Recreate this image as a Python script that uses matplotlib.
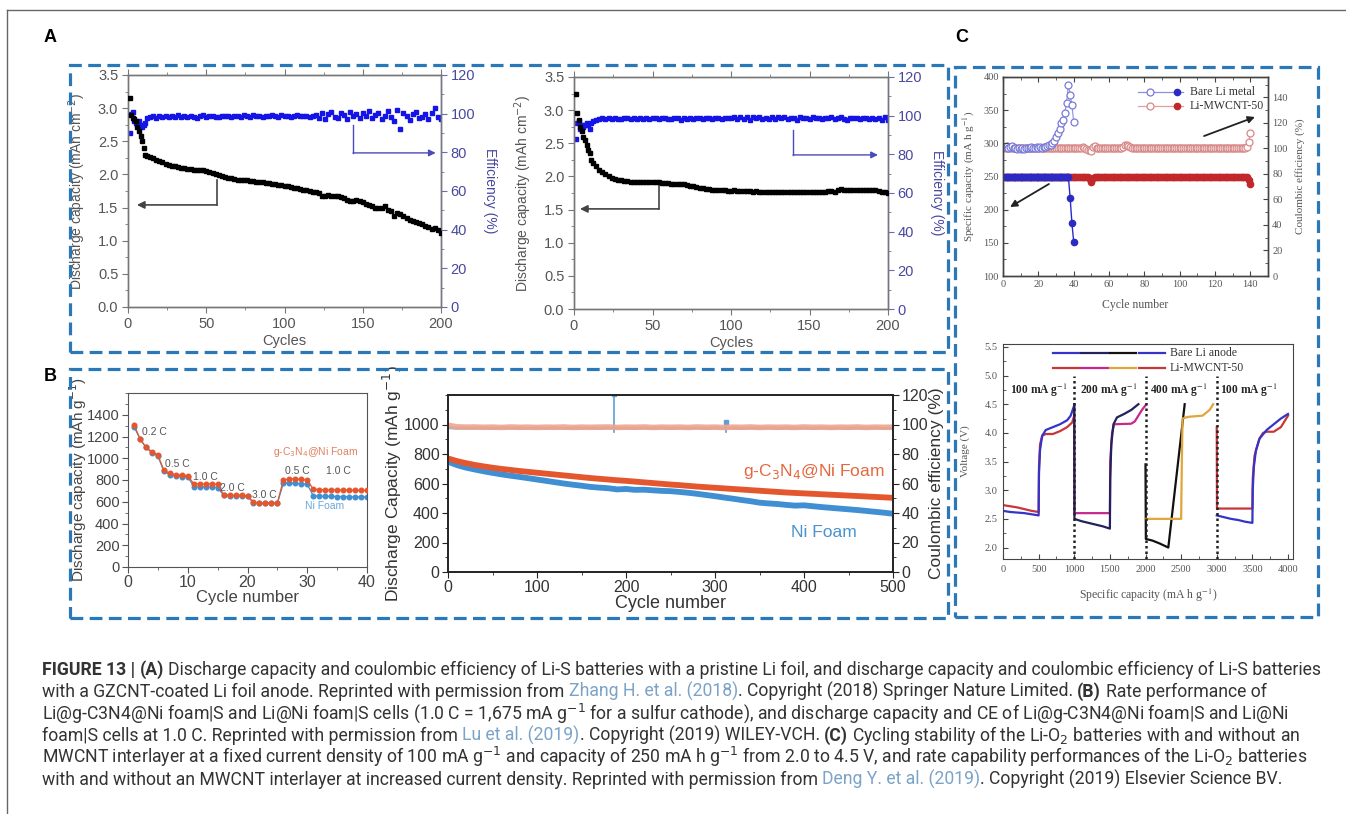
import matplotlib
matplotlib.use("Agg")
import matplotlib.pyplot as plt
import numpy as np
from matplotlib.patches import Rectangle
from matplotlib.ticker import MultipleLocator

W, H = 1346, 814
SANS = "Liberation Sans"
SERIF = "Liberation Serif"
CAPF = "Roboto"

# ======================= DATA =======================
# ---- Panel A (left): pristine Li foil ----
a1_cyc_early = [1, 2, 3, 4, 5, 6, 7, 8, 9, 10, 11, 12]
a1_cap_early = [3.15, 2.9, 2.85, 2.84, 2.8, 2.72, 2.65, 2.58, 2.5, 2.4, 2.3, 2.28]
a1_eff_early = [90, 100, 101, 96, 95, 94, 96, 94, 93, 94, 95, 98]
a1_cap_late = [2.27, 2.25, 2.22, 2.2, 2.18, 2.15, 2.14, 2.13, 2.12, 2.11, 2.1, 2.09,
               2.08, 2.08, 2.07, 2.07, 2.07, 2.06, 2.05, 2.04, 2.02, 2.0, 1.99, 1.98,
               1.96, 1.95, 1.94, 1.93, 1.92, 1.92, 1.91, 1.91, 1.9, 1.9, 1.89, 1.88,
               1.88, 1.87, 1.87, 1.86, 1.85, 1.84, 1.84, 1.83, 1.82, 1.81, 1.8, 1.79,
               1.78, 1.77, 1.76, 1.75, 1.74, 1.74,
               1.72, 1.67, 1.68, 1.69, 1.68, 1.68, 1.67, 1.66, 1.64, 1.62, 1.6, 1.6,
               1.61, 1.6, 1.58, 1.56, 1.54, 1.52, 1.5, 1.49, 1.5, 1.52,
               1.47, 1.45, 1.38, 1.42, 1.4, 1.37, 1.35, 1.32, 1.3, 1.28, 1.27, 1.25,
               1.22, 1.2, 1.18, 1.19, 1.16, 1.12]
a1_eff_late = [98.2, 98.6, 98.0, 98.8, 98.4, 99.0, 98.3, 98.7, 98.1, 99.2, 98.5, 98.8,
               98.2, 98.9, 98.4, 98.0, 98.7, 99.1, 98.3, 98.6, 98.9, 98.2, 98.5, 98.8,
               98.6, 98.9, 98.3, 99.0, 98.7, 98.4, 99.1, 98.8, 98.5, 99.2, 98.7, 98.9,
               98.4, 99.0, 98.6, 99.3, 98.8, 98.5, 99.1, 98.7, 99.0, 98.4, 98.9, 99.2,
               98.6, 98.8, 99.0, 98.5, 98.9, 99.1,
               98.0, 100.5, 97.5, 99.8, 101.0, 98.2, 97.8, 100.2, 99.5, 97.2, 100.8, 98.6,
               99.9, 97.6, 100.3, 98.9, 101.2, 97.9, 99.4, 100.6, 97.4, 99.0, 101.5, 98.3,
               96.0, 101.8, 92.0, 100.5, 98.7, 96.5, 99.6, 101.0, 97.8, 98.5, 99.9, 97.3,
               100.2, 103.0, 98.1, 97.0]

# ---- Panel A (right): GZCNT-coated Li foil ----
a2_cyc_early = [1, 2, 3, 4, 5, 6, 7, 8, 9, 10, 11, 12]
a2_cap_early = [3.25, 2.95, 2.85, 2.75, 2.68, 2.6, 2.55, 2.48, 2.4, 2.35, 2.25, 2.2]
a2_eff_early = [88, 96, 97, 93, 95, 94, 95, 96, 95, 93, 96, 97]
a2_cap_late = [2.15, 2.1, 2.06, 2.03, 2.0, 1.97, 1.96, 1.95, 1.94,
               1.93, 1.93, 1.92, 1.92, 1.92, 1.91, 1.91, 1.91, 1.92, 1.92,
               1.91, 1.91, 1.9, 1.9, 1.9, 1.89, 1.89, 1.89, 1.88, 1.88,
               1.87, 1.86, 1.85, 1.84, 1.83, 1.82, 1.81, 1.81, 1.8, 1.8,
               1.79, 1.79, 1.79, 1.78, 1.78, 1.79, 1.78, 1.78, 1.78, 1.78,
               1.78, 1.77, 1.78, 1.77, 1.77, 1.77, 1.77, 1.76, 1.77, 1.77,
               1.76, 1.76, 1.77, 1.76, 1.77, 1.77, 1.76, 1.76, 1.76, 1.77,
               1.76, 1.77, 1.77, 1.76, 1.77, 1.78, 1.78, 1.77, 1.79, 1.81,
               1.79, 1.79, 1.8, 1.8, 1.8, 1.8, 1.79, 1.8, 1.8, 1.79,
               1.79, 1.78, 1.77, 1.76, 1.75]
a2_eff_late = [97.8, 98.3, 98.6, 98.2, 98.7, 98.4, 98.9, 98.5, 98.1, 98.8, 98.6, 98.3,
               98.9, 98.5, 98.7, 98.2, 98.8, 98.4, 99.0, 98.6, 98.3, 98.7, 98.9, 98.5,
               98.4, 98.8, 98.6, 97.9, 98.7, 98.5, 98.9, 98.3, 98.6, 98.8, 98.4, 98.7,
               98.9, 98.5, 98.6, 98.8, 98.4, 98.7, 99.0, 98.6, 99.3, 98.2, 99.5, 98.4,
               99.1, 98.0, 99.4, 98.7, 99.2, 98.3,
               99.0, 98.5, 99.3, 98.2, 99.1, 98.8, 99.4, 98.4, 99.0, 98.6, 97.5, 99.2,
               98.7, 98.9, 98.4, 99.1, 98.6, 98.8, 98.3, 98.9, 98.7, 99.1, 98.5, 98.8,
               99.5, 98.4, 97.8, 98.9, 98.6, 98.8, 98.4, 98.7, 98.9, 98.3, 98.6, 98.1,
               98.7, 97.6, 99.2, 97.8]

a_xticks = [0, 50, 100, 150, 200]
a_xlabels = ["0", "50", "100", "150", "200"]
a_yticks = [0.0, 0.5, 1.0, 1.5, 2.0, 2.5, 3.0, 3.5]
a_ylabels = ["0.0", "0.5", "1.0", "1.5", "2.0", "2.5", "3.0", "3.5"]
a_rticks = [0, 20, 40, 60, 80, 100, 120]
a_rlabels = ["0", "20", "40", "60", "80", "100", "120"]

# ---- Panel B (left): rate performance ----
b1_cyc = list(range(1, 41))
b1_gcn = [1310, 1180, 1100, 1060, 1030, 890, 860, 850, 845, 840,
          765, 765, 765, 765, 760, 665, 660, 660, 660, 655,
          595, 590, 590, 590, 590, 800, 810, 810, 805, 800,
          715, 712, 710, 710, 708, 708, 706, 706, 705, 705]
b1_ni = [1290, 1180, 1100, 1050, 1020, 880, 850, 840, 830, 830,
         740, 735, 735, 735, 730, 660, 655, 655, 650, 650,
         590, 590, 585, 585, 585, 770, 775, 770, 765, 760,
         655, 652, 650, 650, 648, 648, 646, 646, 645, 645]
b1_xticks = [0, 10, 20, 30, 40]
b1_xlabels = ["0", "10", "20", "30", "40"]
b1_yticks = [0, 200, 400, 600, 800, 1000, 1200, 1400]
b1_ylabels = ["0", "200", "400", "600", "800", "1000", "1200", "1400"]
b1_rate_labels = ["0.2 C", "0.5 C", "1.0 C", "2.0 C", "3.0 C", "0.5 C", "1.0 C"]
b1_rate_x = [2.3, 6.2, 10.9, 15.4, 20.8, 26.3, 33.2]
b1_rate_y = [1243, 948, 829, 727, 663, 884, 884]

# ---- Panel B (right): long cycling at 1.0 C ----
b2_cyc = list(range(0, 501, 10))
b2_gcn = [770, 752, 738, 726, 716, 707, 699, 692, 685, 679, 673, 667, 661, 655, 649,
          643, 637, 632, 627, 622, 618, 613, 608, 603, 598, 593, 589, 584, 579, 575,
          571, 567, 563, 559, 555, 551, 547, 543, 539, 536, 533, 530, 527, 524, 521,
          518, 515, 512, 509, 506, 503]
b2_ni = [748, 725, 708, 695, 683, 672, 662, 653, 645, 636, 627, 618, 609, 600, 592,
         585, 577, 572, 568, 560, 563, 557, 558, 554, 550, 548, 543, 537, 530, 522,
         514, 505, 497, 488, 480, 470, 465, 461, 455, 450, 452, 446, 440, 435, 430,
         425, 420, 414, 408, 402, 395]
b2_gcn_ce = [99.5, 98.4, 98.2, 98.3, 98.1, 98.2, 98.0, 98.3, 98.1, 98.2, 98.0, 98.2,
             98.1, 98.3, 98.0, 98.2, 98.1, 98.2, 98.3, 98.0, 98.2, 98.1, 98.3, 98.0,
             98.2, 98.1, 98.2, 98.0, 98.3, 98.1, 98.2, 98.0, 98.2, 98.1, 98.3, 98.0,
             98.2, 98.1, 98.2, 98.0, 98.3, 98.1, 98.2, 98.0, 98.2, 98.1, 98.3, 98.0,
             98.2, 98.1, 98.2]
b2_ni_ce = [97.8, 97.4, 97.6, 97.5, 97.6, 97.4, 97.7, 97.5, 97.6, 97.4, 97.6, 97.5,
            97.7, 97.4, 97.6, 97.5, 97.6, 97.4, 97.7, 97.5, 97.6, 97.4, 97.6, 97.5,
            97.7, 97.4, 97.6, 97.5, 97.6, 97.4, 97.7, 97.5, 97.6, 97.4, 97.6, 97.5,
            97.7, 97.4, 97.6, 97.5, 97.6, 97.4, 97.7, 97.5, 97.6, 97.4, 97.6, 97.5,
            97.7, 97.4, 97.6]
b2_spike_cyc = [187, 312]
b2_spike_val = [121, 102]
b2_xticks = [0, 100, 200, 300, 400, 500]
b2_xlabels = ["0", "100", "200", "300", "400", "500"]
b2_yticks = [0, 200, 400, 600, 800, 1000]
b2_ylabels = ["0", "200", "400", "600", "800", "1000"]
b2_rticks = [0, 20, 40, 60, 80, 100, 120]
b2_rlabels = ["0", "20", "40", "60", "80", "100", "120"]

# ---- Panel C (top): cycling stability ----
c1_bare_cyc = list(range(1, 41))
c1_bare_cap = [250, 250, 250, 250, 250, 250, 250, 250, 250, 250,
               250, 250, 250, 250, 250, 250, 250, 250, 250, 250,
               250, 250, 250, 250, 250, 250, 250, 250, 250, 250,
               250, 250, 250, 250, 250, 250, 250, 218, 180, 152]
c1_bare_ce = [101.5, 102, 100.5, 101, 102, 100, 100.5, 99.5, 100, 99.5,
              100, 99.5, 100, 100, 100.5, 101, 100.5, 100, 101, 100.5,
              101, 100.5, 101, 101.5, 102, 102.5, 103, 104, 106, 109,
              112, 115, 120, 122, 128, 136, 150, 142, 134, 121]
c1_mw_cyc = list(range(1, 141))
c1_mw_cap = [250, 250, 250, 250, 250, 250, 250, 250, 250, 250,
             250, 250, 250, 250, 250, 250, 250, 250, 250, 250,
             250, 250, 250, 250, 250, 250, 250, 250, 250, 250,
             250, 250, 250, 250, 250, 250, 250, 250, 250, 250,
             250, 250, 250, 250, 250, 250, 250, 249, 246, 242,
             248, 250, 250, 250, 250, 250, 250, 250, 250, 250,
             250, 250, 250, 250, 250, 250, 250, 250, 250, 250,
             250, 250, 250, 250, 250, 250, 250, 250, 250, 250,
             250, 250, 250, 250, 250, 250, 250, 250, 250, 250,
             250, 250, 250, 250, 250, 250, 250, 250, 250, 250,
             250, 250, 250, 250, 250, 250, 250, 250, 250, 250,
             250, 250, 250, 250, 250, 250, 250, 250, 250, 250,
             250, 250, 250, 250, 250, 250, 250, 250, 250, 250,
             250, 250, 250, 250, 250, 250, 250, 250, 244, 238]
c1_mw_ce = [100, 100, 100, 100, 100, 100, 100, 100, 100, 100,
            100, 100, 100, 100, 100, 100, 100, 100, 100, 100,
            100, 100, 100, 100, 100, 100, 100, 100, 100, 100,
            100, 100, 100, 100, 100, 100, 100, 100, 100, 100,
            100, 100, 100, 100, 101, 100.5, 99.5, 99, 98.5, 98,
            101, 102, 100.5, 100, 100, 100, 100, 100, 100, 100,
            100, 100, 100, 100, 100, 100, 100.5, 101, 102.5, 103,
            102, 101, 100, 100, 100, 100, 100, 100, 100, 100,
            100, 100, 100, 100, 100, 100, 100, 100, 100, 100,
            100, 100, 100, 100, 100, 100, 100, 100, 100, 100,
            100, 100, 100, 100, 100, 100, 100, 100, 100, 100,
            100, 100, 100, 100, 100, 100, 100, 100, 100, 100,
            100, 100, 100, 100, 100, 100, 100, 100, 100, 100,
            100, 100, 100, 100, 100, 100, 100, 101, 105, 112]
c1_xticks = [0, 20, 40, 60, 80, 100, 120, 140]
c1_xlabels = ["0", "20", "40", "60", "80", "100", "120", "140"]
c1_yticks = [100, 150, 200, 250, 300, 350, 400]
c1_ylabels = ["100", "150", "200", "250", "300", "350", "400"]
c1_rticks = [0, 20, 40, 60, 80, 100, 120, 140]
c1_rlabels = ["0", "20", "40", "60", "80", "100", "120", "140"]

# ---- Panel C (bottom): rate capability voltage profiles ----
bare_s1_x = [0, 100, 200, 300, 400, 500, 505, 520, 550, 600, 700, 800, 900, 950, 1000]
bare_s1_v = [2.64, 2.62, 2.61, 2.6, 2.58, 2.56, 3.3, 3.7, 3.95, 4.05, 4.1, 4.15, 4.22, 4.3, 4.48]
bare_s2_x = [1000, 1003, 1100, 1200, 1300, 1400, 1500, 1505, 1520, 1550, 1600, 1700, 1800, 1900]
bare_s2_v = [4.5, 2.5, 2.46, 2.43, 2.4, 2.37, 2.33, 3.2, 3.8, 4.15, 4.27, 4.33, 4.4, 4.5]
bare_s3_x = [2000, 2005, 2100, 2200, 2320, 2550]
bare_s3_v = [3.45, 2.15, 2.12, 2.07, 2.0, 4.5]
bare_s4_x = [3000, 3100, 3200, 3300, 3400, 3500, 3505, 3520, 3550, 3600, 3700, 3800, 3900, 4000]
bare_s4_v = [2.56, 2.53, 2.5, 2.48, 2.45, 2.43, 3.0, 3.4, 3.7, 3.9, 4.05, 4.15, 4.25, 4.33]
mw_s1_x = [0, 100, 200, 300, 400, 500, 505, 520, 550, 600, 700, 800, 900, 970, 1000]
mw_s1_v = [2.74, 2.72, 2.7, 2.67, 2.64, 2.62, 3.4, 3.8, 3.95, 3.98, 3.98, 4.03, 4.1, 4.18, 4.3]
mw_s2_x = [1000, 1003, 1500, 1505, 1530, 1560, 1800, 1850, 1900, 1950, 2000]
mw_s2_v = [4.45, 2.6, 2.6, 3.5, 4.0, 4.15, 4.16, 4.2, 4.3, 4.4, 4.48]
mw_s3_x = [2000, 2500, 2510, 2520, 2600, 2800, 2900, 2950]
mw_s3_v = [2.5, 2.5, 3.5, 4.25, 4.28, 4.3, 4.4, 4.5]
mw_s4_x = [3000, 3003, 3500, 3505, 3530, 3600, 3650, 3700, 3800, 3900, 4000]
mw_s4_v = [4.1, 2.68, 2.68, 3.2, 3.6, 3.9, 4.0, 4.02, 4.02, 4.1, 4.3]
c2_bounds = [1000, 2000, 3000]
c2_rate_labels = ["100 mA g$^{-1}$", "200 mA g$^{-1}$", "400 mA g$^{-1}$", "100 mA g$^{-1}$"]
c2_rate_x = [98, 1080, 2063, 3045]
c2_xticks = [0, 500, 1000, 1500, 2000, 2500, 3000, 3500, 4000]
c2_xlabels = ["0", "500", "1000", "1500", "2000", "2500", "3000", "3500", "4000"]
c2_yticks = [2.0, 2.5, 3.0, 3.5, 4.0, 4.5, 5.0, 5.5]
c2_ylabels = ["2.0", "2.5", "3.0", "3.5", "4.0", "4.5", "5.0", "5.5"]

# ======================= FIGURE =======================
fig = plt.figure(figsize=(W / 100, H / 100), dpi=100)


def add_ax(l, t, r, b):
    return fig.add_axes([l / W, 1 - b / H, (r - l) / W, (b - t) / H])


def ticks(ax, which, major, labels, minor, family, size, color):
    if which == "x":
        ax.set_xticks(major)
        ax.set_xticklabels(labels, fontfamily=family, fontsize=size, color=color)
        ax.xaxis.set_minor_locator(MultipleLocator(minor))
    else:
        ax.set_yticks(major)
        ax.set_yticklabels(labels, fontfamily=family, fontsize=size, color=color)
        ax.yaxis.set_minor_locator(MultipleLocator(minor))


def frame(l, t, r, b):
    fig.patches.append(Rectangle((l / W, 1 - b / H), (r - l) / W, (b - t) / H,
                                 transform=fig.transFigure, fill=False,
                                 edgecolor="#2a78b8", lw=2.3, ls=(0, (4, 2))))


# page frame lines
fig.add_artist(plt.Line2D([7 / W, 1], [1 - 10 / H, 1 - 10 / H], transform=fig.transFigure,
                          color="#666666", lw=1))
fig.add_artist(plt.Line2D([7 / W, 7 / W], [0, 1 - 10 / H], transform=fig.transFigure,
                          color="#666666", lw=1))

# dashed panel frames
frame(70, 65, 948, 352)
frame(70, 369, 948, 618)
frame(955, 67, 1318, 617)

for lab, (px, py) in zip(["A", "B", "C"], [(50, 38), (50, 376), (962, 38)]):
    fig.text(px / W, 1 - py / H, lab, fontfamily=SANS, fontweight="bold", fontsize=13,
             ha="center", va="center")

AGRAY = "#555555"
ABLUE = "#4848a0"


def panel_a(box, cyc_e, cap_e, eff_e, cap_l, eff_l, arr_k, arr_b):
    ax = add_ax(*box)
    axr = ax.twinx()
    cyc_l = np.arange(14, 14 + 2 * len(cap_l), 2)
    cyc_le = np.arange(14, 14 + 2 * len(eff_l), 2)
    axr.plot(cyc_e, eff_e, "s", ms=3.3, color="#1414e6", mec="#1414e6", zorder=2)
    axr.plot(cyc_le, eff_l, "s", ms=3.3, color="#1414e6", mec="#1414e6", zorder=2)
    ax.set_zorder(axr.get_zorder() + 1)
    ax.patch.set_visible(False)
    ax.plot(cyc_e, cap_e, "s", ms=3.3, color="black", zorder=3)
    ax.plot(cyc_l, cap_l, "s", ms=3.3, color="black", zorder=3)
    ax.set_xlim(0, 200)
    ax.set_ylim(0, 3.5)
    axr.set_ylim(0, 120)
    ticks(ax, "x", a_xticks, a_xlabels, 25, SANS, 10.5, AGRAY)
    ticks(ax, "y", a_yticks, a_ylabels, 0.25, SANS, 10.5, AGRAY)
    ticks(axr, "y", a_rticks, a_rlabels, 10, SANS, 10.5, ABLUE)
    for a in (ax, axr):
        for s in a.spines.values():
            s.set_color("#777777")
            s.set_linewidth(1.0)
    axr.spines["right"].set_color("#6a6ab8")
    ax.tick_params(which="major", direction="out", length=4, color="#777777", pad=3)
    ax.tick_params(which="minor", direction="out", length=2, color="#777777")
    ax.tick_params(axis="x", top=True, which="both", direction="out")
    axr.tick_params(which="major", direction="out", length=4, color="#6a6ab8", pad=3)
    axr.tick_params(which="minor", direction="out", length=2, color="#6a6ab8")
    ax.set_xlabel("Cycles", fontfamily=SANS, fontsize=10.5, color=AGRAY)
    ax.xaxis.set_label_coords(0.5, -0.118)
    ax.set_ylabel("Discharge capacity (mAh cm$^{-2}$)", fontfamily=SANS, fontsize=10,
                  color=AGRAY, math_fontfamily="dejavusans")
    ax.yaxis.set_label_coords(-0.128, 0.5)
    axr.set_ylabel("Efficiency (%)", fontfamily=SANS, fontsize=10, color=ABLUE,
                   rotation=270, va="center")
    axr.yaxis.set_label_coords(1.155, 0.5)
    # arrows
    kx0, ky0, ky1, kx1 = arr_k
    ax.plot([kx0, kx0], [ky0, ky1], color="#444444", lw=1.2)
    ax.annotate("", xy=(kx1, ky1), xytext=(kx0, ky1),
                arrowprops=dict(arrowstyle="-|>", color="#444444", lw=1.2,
                                shrinkA=0, shrinkB=0, mutation_scale=11))
    bx0, by0, by1, bx1 = arr_b
    axr.plot([bx0, bx0], [by0, by1], color="#4a4ab8", lw=1.0)
    axr.annotate("", xy=(bx1, by1), xytext=(bx0, by1),
                 arrowprops=dict(arrowstyle="-|>", color="#4a4ab8", lw=1.0,
                                 shrinkA=0, shrinkB=0, mutation_scale=10))


panel_a((128, 75, 441, 307), a1_cyc_early, a1_cap_early, a1_eff_early, a1_cap_late,
        a1_eff_late, (56.8, 1.92, 1.54, 5.7), (143.8, 94, 79.7, 196.6))
panel_a((574, 77, 888, 309), a2_cyc_early, a2_cap_early, a2_eff_early, a2_cap_late,
        a2_eff_late, (54, 1.87, 1.51, 3.8), (139.5, 92.6, 79.7, 193.6))

# ---------------- Panel B left ----------------
BORG = "#e4572e"
BBLU = "#3f8fd2"
axb1 = add_ax(128, 393, 367, 567)
axb1.plot(b1_cyc, b1_ni, "-o", color=BBLU, ms=3.3, lw=0.9, zorder=2)
axb1.plot(b1_cyc, b1_gcn, "-o", color=BORG, ms=3.3, lw=0.9, zorder=3)
axb1.set_xlim(0, 40)
axb1.set_ylim(0, 1600)
ticks(axb1, "x", b1_xticks, b1_xlabels, 5, SANS, 11.5, "#444444")
ticks(axb1, "y", b1_yticks, b1_ylabels, 100, SANS, 10.5, "#444444")
for s in axb1.spines.values():
    s.set_color("#555555")
axb1.tick_params(which="major", direction="out", length=4, color="#555555", pad=2)
axb1.tick_params(which="minor", direction="out", length=2, color="#555555")
axb1.set_xlabel("Cycle number", fontfamily=SANS, fontsize=12, color="#444444")
axb1.xaxis.set_label_coords(0.5, -0.135)
axb1.set_ylabel("Discharge capacity (mAh g$^{-1}$)", fontfamily=SANS, fontsize=11,
                color="#444444", math_fontfamily="dejavusans")
axb1.yaxis.set_label_coords(-0.163, 0.5)
for lab, x, y in zip(b1_rate_labels, b1_rate_x, b1_rate_y):
    axb1.text(x, y, lab, fontfamily=SANS, fontsize=7.5, color="#555555", va="center")
axb1.text(24.3, 1059, "g-C$_3$N$_4$@Ni Foam", fontfamily=SANS, fontsize=7.5, color="#e08060",
          va="center", math_fontfamily="dejavusans")
axb1.text(29.6, 560, "Ni Foam", fontfamily=SANS, fontsize=7.5, color="#6aa6d8", va="center")

# ---------------- Panel B right ----------------
axb2 = add_ax(448, 395, 893, 572)
axb2r = axb2.twinx()
axb2.set_zorder(axb2r.get_zorder() + 1)
axb2.patch.set_visible(False)
axb2r.plot(b2_cyc, b2_ni_ce, "-", color="#7fb3de", lw=2.0)
for cx, cv in zip(b2_spike_cyc, b2_spike_val):
    axb2r.plot([cx, cx], [95, cv], color="#5f9fd4", lw=1.2)
    axb2r.plot([cx], [cv], "s", color="#5f9fd4", ms=3)
axb2r.plot(b2_cyc, b2_gcn_ce, "-", color="#f0a48c", lw=4.0, alpha=0.9)
axb2.plot(b2_cyc, b2_ni, "-", color=BBLU, lw=4.2, solid_capstyle="butt")
axb2.plot(b2_cyc, b2_gcn, "-", color=BORG, lw=4.2, solid_capstyle="butt")
axb2.set_xlim(0, 500)
axb2.set_ylim(0, 1200)
axb2r.set_ylim(0, 120)
ticks(axb2, "x", b2_xticks, b2_xlabels, 50, SANS, 11.5, "#333333")
ticks(axb2, "y", b2_yticks, b2_ylabels, 100, SANS, 11.5, "#333333")
ticks(axb2r, "y", b2_rticks, b2_rlabels, 10, SANS, 11.5, "#333333")
for a in (axb2, axb2r):
    for s in a.spines.values():
        s.set_color("#222222")
        s.set_linewidth(1.2)
    a.tick_params(which="major", direction="out", length=4, color="#222222", pad=2)
    a.tick_params(which="minor", direction="out", length=2, color="#222222")
axb2.set_xlabel("Cycle number", fontfamily=SANS, fontsize=13, color="#333333")
axb2.xaxis.set_label_coords(0.5, -0.13)
axb2.set_ylabel("Discharge Capacity (mAh g$^{-1}$)", fontfamily=SANS, fontsize=12.5,
                color="#333333", math_fontfamily="dejavusans")
axb2.yaxis.set_label_coords(-0.098, 0.5)
axb2r.set_ylabel("Coulombic efficiency (%)", fontfamily=SANS, fontsize=12.5,
                 color="#333333", rotation=90)
axb2r.yaxis.set_label_coords(1.081, 0.5)
axb2.text(491, 678, "g-C$_3$N$_4$@Ni Foam", fontfamily=SANS, fontsize=12.5, color="#e4683e",
          ha="right", va="center", math_fontfamily="dejavusans")
axb2.text(422, 270, "Ni Foam", fontfamily=SANS, fontsize=12.5, color="#4a92cf",
          ha="center", va="center")

# ---------------- Panel C top ----------------
CG = "#555555"
CBLUE = "#2b2bc4"
CRED = "#c0282c"
axc1 = add_ax(1003, 77, 1268, 276)
axc1r = axc1.twinx()
axc1.set_zorder(axc1r.get_zorder() + 1)
axc1.patch.set_visible(False)
axc1r.plot(c1_mw_cyc, c1_mw_ce, "-o", color="#e0a0a0", mfc="white", mec="#d88888",
           ms=5, lw=0.8, mew=0.9)
axc1r.plot(c1_bare_cyc, c1_bare_ce, "-o", color="#8f8fe0", mfc="white", mec="#7a7ad8",
           ms=5, lw=0.8, mew=0.9)
axc1.plot(c1_mw_cyc, c1_mw_cap, "-o", color=CRED, ms=4.5, lw=1.0)
axc1.plot(c1_bare_cyc, c1_bare_cap, "-o", color=CBLUE, ms=4.5, lw=1.0)
axc1.set_xlim(0, 150)
axc1.set_ylim(100, 400)
axc1r.set_ylim(0, 156)
ticks(axc1, "x", c1_xticks, c1_xlabels, 10, SERIF, 7.5, CG)
ticks(axc1, "y", c1_yticks, c1_ylabels, 25, SERIF, 7.5, CG)
ticks(axc1r, "y", c1_rticks, c1_rlabels, 10, SERIF, 7.5, CG)
for a in (axc1, axc1r):
    for s in a.spines.values():
        s.set_color("#444444")
        s.set_linewidth(1.0)
    a.tick_params(which="major", direction="in", length=3.5, color="#444444", pad=3)
    a.tick_params(which="minor", direction="in", length=2, color="#444444")
axc1.tick_params(axis="x", which="both", top=True)
axc1.set_xlabel("Cycle number", fontfamily=SERIF, fontsize=8.5, color=CG)
axc1.xaxis.set_label_coords(0.5, -0.116)
axc1.set_ylabel("Specific capacity (mA h g$^{-1}$)", fontfamily=SERIF, fontsize=8,
                color=CG, math_fontfamily="stix")
axc1.yaxis.set_label_coords(-0.098, 0.5)
axc1r.set_ylabel("Coulombic efficiency (%)", fontfamily=SERIF, fontsize=8, color=CG,
                 rotation=90)
axc1r.yaxis.set_label_coords(1.102, 0.5)
# legend
for yy, lc, ec, fc, name in [(0.925, "#8f8fe0", "#7a7ad8", CBLUE, "Bare Li metal"),
                             (0.854, "#e0a0a0", "#d88888", CRED, "Li-MWCNT-50")]:
    axc1.plot([0.509, 0.679], [yy, yy], color=lc, lw=0.9, transform=axc1.transAxes)
    axc1.plot([0.555], [yy], "o", mfc="white", mec=ec, ms=5, mew=0.9,
              transform=axc1.transAxes)
    axc1.plot([0.657], [yy], "o", color=fc, ms=4.5, transform=axc1.transAxes)
    axc1.text(0.705, yy, name, fontfamily=SERIF, fontsize=8.5, color="#333333",
              va="center", transform=axc1.transAxes)
axc1.annotate("", xy=(4, 204), xytext=(26, 238.7),
              arrowprops=dict(arrowstyle="-|>", color="#222222", lw=1.3,
                              shrinkA=0, shrinkB=0, mutation_scale=10))
axc1.annotate("", xy=(142.6, 339.7), xytext=(113.8, 311),
              arrowprops=dict(arrowstyle="-|>", color="#222222", lw=1.3,
                              shrinkA=0, shrinkB=0, mutation_scale=10))

# ---------------- Panel C bottom ----------------
axc2 = add_ax(1003, 344, 1293, 559)
c_blue = "#3434c8"
c_navy = "#22225c"
c_black = "#111111"
c_red = "#c8363a"
c_mag = "#c8288c"
c_orng = "#e0a63a"
axc2.plot(mw_s1_x, mw_s1_v, color=c_red, lw=1.6)
axc2.plot(bare_s1_x, bare_s1_v, color=c_blue, lw=1.6)
axc2.plot(mw_s2_x, mw_s2_v, color=c_mag, lw=1.6)
axc2.plot(bare_s2_x, bare_s2_v, color=c_navy, lw=1.6)
axc2.plot(bare_s3_x, bare_s3_v, color=c_black, lw=1.6)
axc2.plot(mw_s3_x, mw_s3_v, color=c_orng, lw=1.6)
axc2.plot(mw_s4_x, mw_s4_v, color=c_red, lw=1.6)
axc2.plot(bare_s4_x, bare_s4_v, color=c_blue, lw=1.6)
for bx in c2_bounds:
    axc2.plot([bx, bx], [1.8, 5.0], color="#222222", lw=1.8, ls=(0, (1, 1.2)))
axc2.set_xlim(0, 4070)
axc2.set_ylim(1.8, 5.55)
ticks(axc2, "x", c2_xticks, c2_xlabels, 250, SERIF, 7.5, CG)
ticks(axc2, "y", c2_yticks, c2_ylabels, 0.25, SERIF, 7.5, CG)
for s in axc2.spines.values():
    s.set_color("#444444")
axc2.tick_params(which="major", direction="in", length=3.5, color="#444444", pad=4)
axc2.tick_params(which="minor", direction="in", length=2, color="#444444")
axc2.set_xlabel("Specific capacity (mA h g$^{-1}$)", fontfamily=SERIF, fontsize=8.5,
                color=CG, math_fontfamily="stix")
axc2.xaxis.set_label_coords(0.5, -0.13)
axc2.set_ylabel("Voltage (V)", fontfamily=SERIF, fontsize=8, color=CG)
axc2.yaxis.set_label_coords(-0.114, 0.5)
for lab, x in zip(c2_rate_labels, c2_rate_x):
    axc2.text(x, 4.75, lab, fontfamily=SERIF, fontweight="bold", fontsize=8.3,
              color="#222222", va="center", math_fontfamily="stix")
seg_w = (0.566 - 0.172) / 4
for yy, cols, name in [(0.958, [c_blue, c_navy, c_black, c_blue], "Bare Li anode"),
                       (0.888, [c_red, c_mag, c_orng, c_red], "Li-MWCNT-50")]:
    for i, col in enumerate(cols):
        x0 = 0.172 + i * seg_w
        axc2.plot([x0, x0 + seg_w - 0.008], [yy, yy], color=col, lw=1.6,
                  transform=axc2.transAxes)
    axc2.text(0.576, yy, name, fontfamily=SERIF, fontsize=8.5, color="#333333",
              va="center", transform=axc2.transAxes)

# ---------------- Caption ----------------
renderer = fig.canvas.get_renderer()
LINK = "#7ba3c8"
cap_lines = [
    [("FIGURE 13 | ", "b"), ("(A)", "b"),
     (" Discharge capacity and coulombic efficiency of Li-S batteries with a pristine Li foil, "
      "and discharge capacity and coulombic efficiency of Li-S batteries", "n")],
    [("with a GZCNT-coated Li foil anode. Reprinted with permission from ", "n"),
     ("Zhang H. et al. (2018)", "l"), (". Copyright (2018) Springer Nature Limited. ", "n"),
     ("(B)", "b"), (" Rate performance of", "n")],
    [("Li@g-C3N4@Ni foam|S and Li@Ni foam|S cells (1.0 C = 1,675 mA g$^{-1}$ for a sulfur "
      "cathode), and discharge capacity and CE of Li@g-C3N4@Ni foam|S and Li@Ni", "n")],
    [("foam|S cells at 1.0 C. Reprinted with permission from ", "n"), ("Lu et al. (2019)", "l"),
     (". Copyright (2019) WILEY-VCH. ", "n"), ("(C)", "b"),
     (" Cycling stability of the Li-O$_2$ batteries with and without an", "n")],
    [("MWCNT interlayer at a fixed current density of 100 mA g$^{-1}$ and capacity of 250 mA h "
      "g$^{-1}$ from 2.0 to 4.5 V, and rate capability performances of the Li-O$_2$ batteries",
      "n")],
    [("with and without an MWCNT interlayer at increased current density. Reprinted with "
      "permission from ", "n"), ("Deng Y. et al. (2019)", "l"),
     (". Copyright (2019) Elsevier Science BV.", "n")],
]


def run_kw(style, size):
    kw = dict(fontfamily=CAPF, fontsize=size, math_fontfamily="dejavusans",
              color="#333333")
    if style == "b":
        kw["fontweight"] = "bold"
    if style == "l":
        kw["color"] = LINK
    return kw


def layout(runs, x0, y, size, draw):
    sp_t = fig.text(0, 0, "a a", fontfamily=CAPF, fontsize=size)
    sp2 = fig.text(0, 0, "aa", fontfamily=CAPF, fontsize=size)
    sp = sp_t.get_window_extent(renderer).width - sp2.get_window_extent(renderer).width
    sp_t.remove()
    sp2.remove()
    x = x0
    for s, style in runs:
        lead = len(s) - len(s.lstrip(" "))
        trail = len(s) - len(s.rstrip(" "))
        core = s.strip(" ")
        x += lead * sp
        t = fig.text(x / W, 1 - y / H, core, ha="left", va="baseline", **run_kw(style, size))
        x += t.get_window_extent(renderer).width + trail * sp
        if not draw:
            t.remove()
    return x - x0


base = 10.0
w1 = layout(cap_lines[0], 42, 675, base, False)
cap_size = base * (1325 - 42) / w1
for i, runs in enumerate(cap_lines):
    layout(runs, 42, 675 + 22 * i, cap_size, True)

fig.savefig("out.png", dpi=100)
